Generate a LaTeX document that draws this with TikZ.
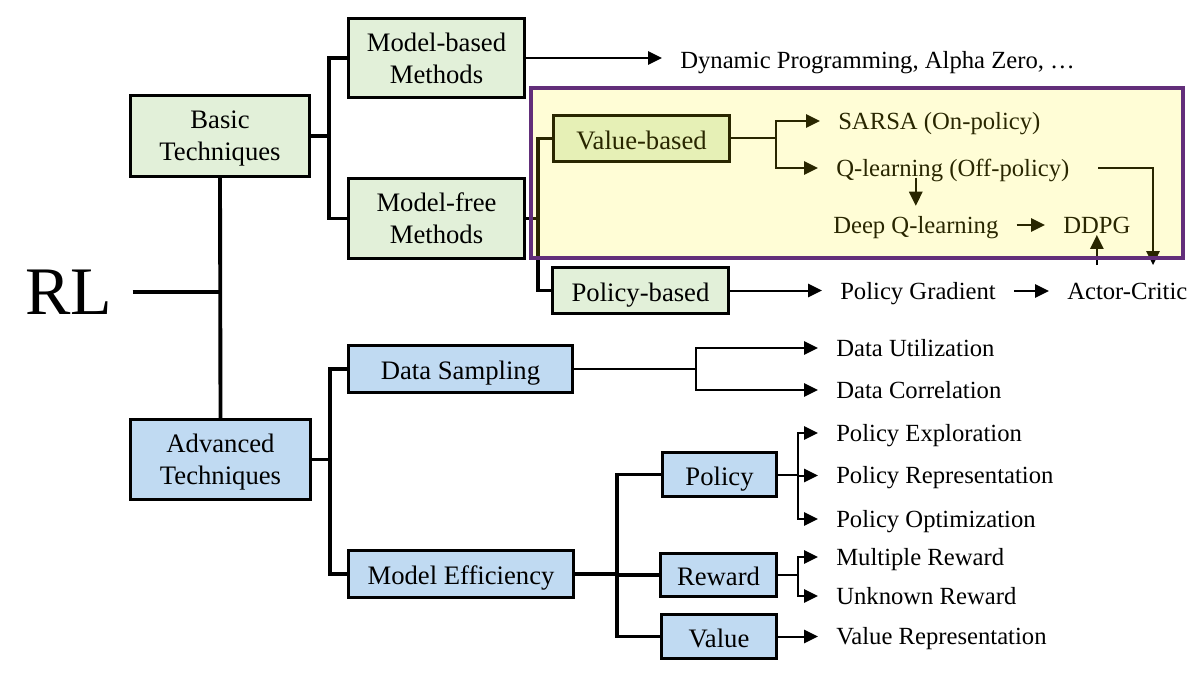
\documentclass[tikz,border=0pt]{standalone}
\usepackage{fontspec}
\setmainfont{Liberation Serif}
\usetikzlibrary{arrows.meta}
\definecolor{basicgreen}{RGB}{226,240,217}
\definecolor{advblue}{RGB}{192,218,242}
\definecolor{hlborder}{RGB}{98,46,122}
\begin{document}
\begin{tikzpicture}[x=0.75pt, y=-0.75pt,
    greenbox/.style={draw, line width=2.3pt, fill=basicgreen, align=center, inner sep=0pt, text depth=0pt, font=\fontsize{20}{24}\selectfont},
    bluebox/.style={greenbox, fill=advblue},
    oneline/.style={text height=16pt},
    leaf/.style={anchor=west, inner xsep=13.5pt, inner ysep=1pt, text height=12.5pt, text depth=0pt, font=\fontsize{18.5}{22}\selectfont},
    trunk/.style={line width=2.9pt},
    arr/.style={line width=1.5pt, -{Triangle[length=10.5pt, width=10pt]}},
    highlight/.style={draw=hlborder, line width=2.5pt, fill=yellow, fill opacity=0.16}]
   \useasboundingbox (0,0) rectangle (1198,677);
   \node[font=\fontsize{51}{60}\selectfont, inner xsep=15pt, inner ysep=0pt] (rl) at (69,292) {RL};
   \node[greenbox, minimum width=134.5pt, minimum height=61pt] (basic) at (220,136) {Basic\\Techniques};
   \node[bluebox, minimum width=135pt, minimum height=60pt] (adv) at (220.5,459.5) {Advanced\\Techniques};
   \node[greenbox, minimum width=132pt, minimum height=59.5pt] (mbased) at (436.5,58) {Model-based\\Methods};
   \node[greenbox, minimum width=132pt, minimum height=60pt] (mfree) at (436.5,218.5) {Model-free\\Methods};
   \node[bluebox, oneline, minimum width=168pt, minimum height=35.5pt] (dsamp) at (460.5,369) {Data Sampling};
   \node[bluebox, oneline, minimum width=169pt, minimum height=35.5pt] (meff) at (461,574) {Model Efficiency};
   \node[greenbox, oneline, minimum width=132pt, minimum height=34.75pt] (vbased) at (641.5,138.5) {Value-based};
   \node[greenbox, oneline, minimum width=132pt, minimum height=34.75pt] (pbased) at (640.5,290.5) {Policy-based};
   \node[bluebox, oneline, minimum width=85.75pt, minimum height=33.25pt] (policy) at (719.5,474.5) {Policy};
   \node[bluebox, oneline, minimum width=87.25pt, minimum height=32.5pt] (reward) at (718.5,575) {Reward};
   \node[bluebox, oneline, minimum width=86.5pt, minimum height=33.25pt] (value) at (719,636.5) {Value};
   \node[leaf] (dp) at (662,60) {Dynamic Programming, Alpha Zero, …};
   \node[leaf] (sarsa) at (820,121) {SARSA (On-policy)};
   \node[leaf] (qlearn) at (818,168) {Q-learning (Off-policy)};
   \node[leaf] (dql) at (815,225) {Deep Q-learning};
   \node[leaf] (ddpg) at (1045,225) {DDPG};
   \node[leaf] (pgrad) at (822,291) {Policy Gradient};
   \node[leaf] (ac) at (1049,291) {Actor-Critic};
   \node[leaf] (dutil) at (818,348) {Data Utilization};
   \node[leaf] (dcorr) at (818,390) {Data Correlation};
   \node[leaf] (pexp) at (818,433) {Policy Exploration};
   \node[leaf] (prep) at (818,475.5) {Policy Representation};
   \node[leaf] (popt) at (818,519) {Policy Optimization};
   \node[leaf] (mrew) at (818,557) {Multiple Reward};
   \node[leaf] (urew) at (818,596) {Unknown Reward};
   \node[leaf] (vrep) at (818,636) {Value Representation};
   \coordinate (actop) at ([yshift=12pt]ac.north);
   \draw[trunk] (rl.east) -- (rl.east -| basic.south);
   \draw[trunk] (basic.south) -- (adv.north);
   \draw[trunk] (basic.east) -- ++(18,0) |- (mbased.west);
   \draw[trunk] (basic.east) -- ++(18,0) |- (mfree.west);
   \draw[trunk] (adv.east) -- ++(18,0) |- (dsamp.west);
   \draw[trunk] (adv.east) -- ++(18,0) |- (meff.west);
   \draw[trunk] (mfree.east) -- ++(12,0) |- (vbased.west);
   \draw[trunk] (mfree.east) -- ++(12,0) |- (pbased.west);
   \draw[trunk] (meff.east) -- ++(42,0) |- (policy.west);
   \draw[trunk] (meff.east) -- ++(42,0) |- (reward.west);
   \draw[trunk] (meff.east) -- ++(42,0) |- (value.west);
   \draw[arr] (mbased.east) -- (mbased.east -| dp.west);
   \draw[arr] (vbased.east) -- ++(45,0) |- (sarsa.west);
   \draw[arr] (vbased.east) -- ++(45,0) |- (qlearn.west);
   \draw[arr, shorten >=7pt] (qlearn.south -| dql.north) -- (dql.north);
   \draw[arr] (dql) -- (ddpg);
   \draw[arr, shorten <=8pt] (qlearn.east) -| (actop -| 1153,0);
   \draw[arr] (actop -| ddpg.south) -- (ddpg.south);
   \draw[arr] (pbased.east) -- (pbased.east -| pgrad.west);
   \draw[arr] (pgrad) -- (ac);
   \draw[arr] (dsamp.east) -- ++(122,0) |- (dutil.west);
   \draw[arr] (dsamp.east) -- ++(122,0) |- (dcorr.west);
   \draw[arr] (policy.east) -- ++(20,0) |- (pexp.west);
   \draw[arr] (policy.east) -- ++(20,0) |- (prep.west);
   \draw[arr] (policy.east) -- ++(20,0) |- (popt.west);
   \draw[arr] (reward.east) -- ++(20,0) |- (mrew.west);
   \draw[arr] (reward.east) -- ++(20,0) |- (urew.west);
   \draw[arr] (value.east) -- (value.east -| vrep.west);
   \draw[highlight] (531,88) rectangle (1183,258);
\end{tikzpicture}
\end{document}
